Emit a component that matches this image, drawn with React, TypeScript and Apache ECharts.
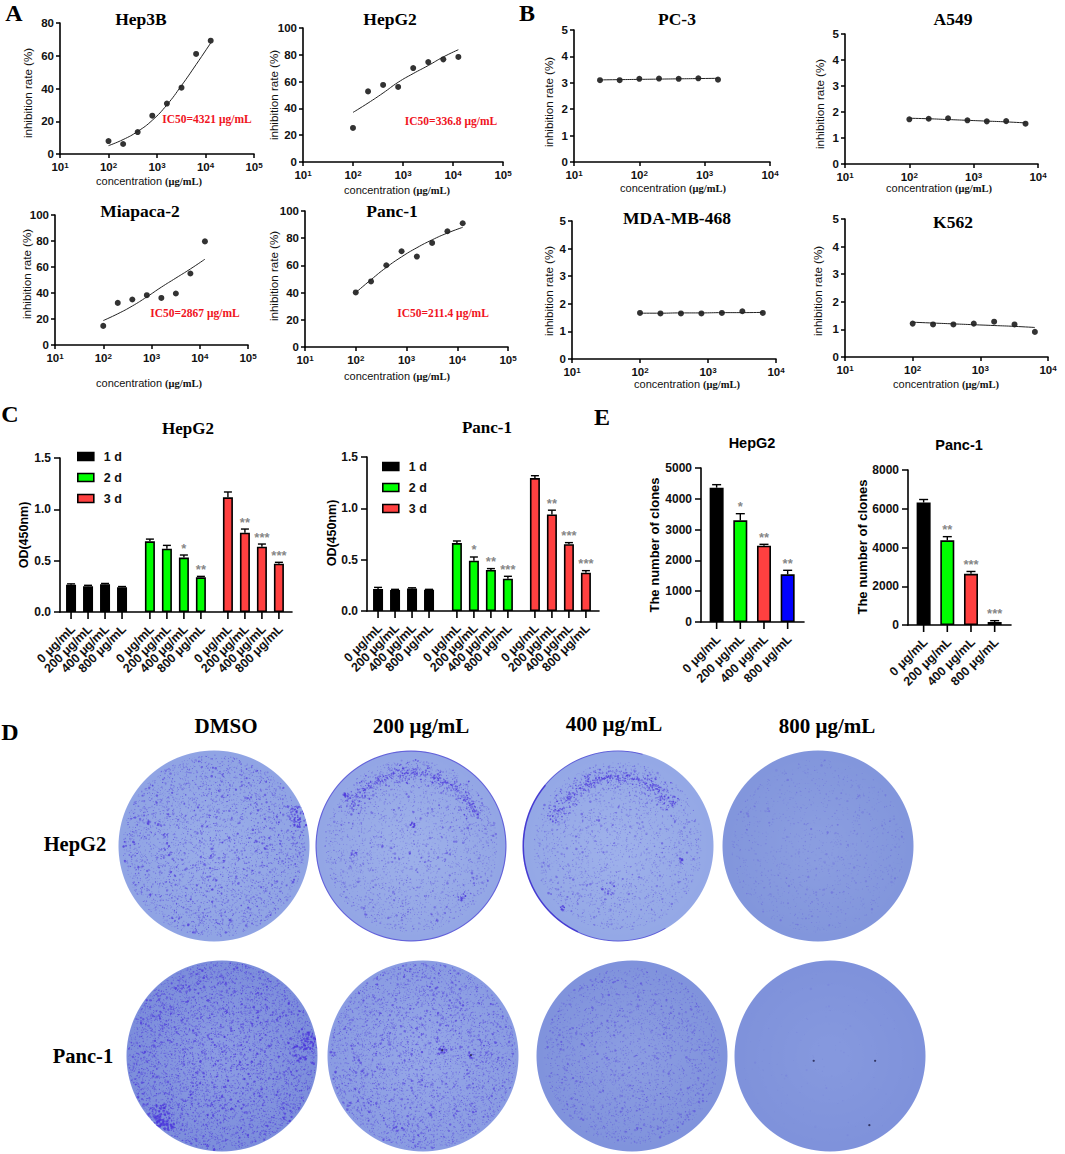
import { useEffect, useRef } from 'react'
import * as echarts from 'echarts'

const SANS = '"Liberation Sans", Arial, sans-serif'
const SERIF = '"Liberation Serif", "Times New Roman", serif'

// --- data ---
const concWide = [100, 200, 400, 800, 1600, 3200, 6400, 12800]
const concPc3 = [25, 50, 100, 200, 400, 800, 1600]
const concNarrow = [100, 200, 400, 800, 1600, 3200, 6400]

const hep3bDots = [7.9, 6.1, 13.4, 23.4, 30.8, 40.5, 61.1, 69.2]
const hep3bFit = [5.1, 8.8, 13.8, 20.6, 30, 41.8, 54.6, 67.8]
const hepg2Dots = [25.4, 52.7, 57.5, 56, 70.1, 74.6, 76.6, 78.4]
const hepg2Fit = [37, 44, 51.5, 59.5, 66, 72, 78.4, 83.8]
const miapacaDots = [14.7, 32.4, 35, 38.3, 36.2, 39.6, 55, 79.7]
const miapacaFit = [18.8, 24, 30, 37, 44.5, 51.5, 58.5, 66]
const panc1Dots = [40.1, 48.2, 60.1, 70.4, 66.5, 76.5, 85.1, 91]
const panc1Fit = [40, 49.5, 58.5, 66.3, 73, 78.8, 83.8, 88]

const pc3Dots = [3.1, 3.1, 3.15, 3.16, 3.15, 3.17, 3.12]
const pc3Fit = [3.11, 3.12, 3.13, 3.14, 3.15, 3.16, 3.17]
const a549Dots = [1.72, 1.74, 1.76, 1.68, 1.64, 1.65, 1.55]
const a549Fit = [1.76, 1.74, 1.71, 1.68, 1.65, 1.62, 1.58]
const mdaDots = [1.67, 1.65, 1.65, 1.65, 1.67, 1.73, 1.67]
const mdaFit = [1.66, 1.66, 1.67, 1.67, 1.68, 1.68, 1.69]
const k562Dots = [1.21, 1.18, 1.18, 1.21, 1.28, 1.18, 0.91]
const k562Fit = [1.26, 1.23, 1.2, 1.17, 1.14, 1.11, 1.07]

const doseLabels = ['0 μg/mL', '200 μg/mL', '400 μg/mL', '800 μg/mL']
const dayNames = ['1 d', '2 d', '3 d']

const cckHepg2 = [0.266, 0.25, 0.27, 0.24, 0.688, 0.617, 0.53, 0.338, 1.117, 0.773, 0.636, 0.471]
const cckHepg2Err = [0.008, 0.01, 0.008, 0.008, 0.022, 0.032, 0.025, 0.009, 0.052, 0.035, 0.026, 0.013]
const cckHepg2Stars = ['', '', '', '', '', '', '*', '**', '', '**', '***', '***']
const cckPanc1 = [0.214, 0.205, 0.22, 0.208, 0.662, 0.49, 0.4, 0.315, 1.295, 0.94, 0.65, 0.373]
const cckPanc1Err = [0.016, 0.006, 0.006, 0.003, 0.02, 0.036, 0.013, 0.023, 0.023, 0.042, 0.016, 0.02]
const cckPanc1Stars = ['', '', '', '', '', '*', '**', '***', '', '**', '***', '***']

const cloneHepg2 = [4361, 3300, 2478, 1548]
const cloneHepg2Err = [98, 217, 44, 130]
const cloneHepg2Stars = ['', '*', '**', '**']
const clonePanc1 = [6321, 4370, 2642, 155]
const clonePanc1Err = [156, 190, 121, 69]
const clonePanc1Stars = ['', '**', '***', '***']

// slots along the bar axes, in bar spacings (the groups are not a whole slot apart)
const cckSlots = [0.65, 1.65, 2.65, 3.65, 5.29, 6.29, 7.29, 8.29, 9.88, 10.88, 11.88, 12.88]
const cloneSlots = [0.66, 1.66, 2.66, 3.66]

const BLACK = '#000000'
const GREEN = '#00ff00'
const RED = '#ff4040'
const BLUE = '#0000ff'

// --- the crystal violet plates are photographs: a speckle texture stands in for them, it is no data ---
interface Plate {
  cx: number
  cy: number
  base: string
  rim: string
  dots: number
  ink: number
  reach: number
  edge?: number
  band?: [number, number, number, number]
  crescent?: boolean
  blobs?: Array<[number, number, number, number]>
  marks?: Array<[number, number]>
}

const plates: Plate[] = [
  { cx: 214, cy: 846, base: '#98ace8', rim: '#90a4e4', dots: 4800, ink: 0.72, reach: 0.95, blobs: [[0.9, -0.31, 0.1, 70], [-0.68, -0.25, 0.02, 4], [-0.45, 0.08, 0.02, 4], [0.0, 0.4, 0.05, 8]] },
  { cx: 411, cy: 846, base: '#9cafe9', rim: '#93a6e5', dots: 3200, ink: 0.55, reach: 0.9, edge: 0.55, band: [0.76, -150, -25, 700], blobs: [[0.02, -0.22, 0.025, 12], [-0.68, -0.53, 0.025, 10], [-0.6, 0.08, 0.03, 10], [0.52, 0.52, 0.04, 10]] },
  { cx: 618, cy: 846, base: '#9db0ea', rim: '#94a8e6', dots: 2700, ink: 0.52, reach: 0.88, crescent: true, band: [0.72, -160, -35, 700], blobs: [[-0.58, 0.65, 0.02, 8], [-0.1, 0.45, 0.06, 14], [0.65, 0.15, 0.02, 8]] },
  { cx: 818, cy: 846, base: '#8a9de0', rim: '#8296dc', dots: 1500, ink: 0.3, reach: 0.9 },
  { cx: 222, cy: 1056, base: '#8a9be2', rim: '#7c8edb', dots: 7500, ink: 0.8, reach: 0.98, blobs: [[0.92, -0.15, 0.09, 90], [0.8, -0.02, 0.08, 30], [-0.66, 0.62, 0.1, 120], [-0.56, 0.72, 0.05, 30]] },
  { cx: 423, cy: 1056, base: '#94a6e7', rim: '#8a9ce2', dots: 6000, ink: 0.68, reach: 0.97, blobs: [[0.2, -0.06, 0.04, 16], [0.5, -0.01, 0.03, 7]], marks: [[0.2, -0.06], [0.5, -0.01]] },
  { cx: 632, cy: 1056, base: '#8a9ce1', rim: '#8093dc', dots: 3500, ink: 0.52, reach: 0.92 },
  { cx: 830, cy: 1056, base: '#8598de', rim: '#7f92db', dots: 160, ink: 0.12, reach: 0.95, marks: [[-0.17, 0.05], [0.47, 0.05], [0.41, 0.72]] }
]

function seeded(seed: number) {
  let s = seed >>> 0
  return () => {
    s = (s + 0x6d2b79f5) >>> 0
    let t = s
    t = Math.imul(t ^ (t >>> 15), t | 1)
    t ^= t + Math.imul(t ^ (t >>> 7), t | 61)
    return ((t ^ (t >>> 14)) >>> 0) / 4294967296
  }
}

function drawPlate(plate: Plate, seed: number): string {
  const R = 96
  const scale = 2
  const canvas = document.createElement('canvas')
  canvas.width = canvas.height = R * 2 * scale
  const ctx = canvas.getContext('2d') as CanvasRenderingContext2D
  const rnd = seeded(seed)
  ctx.scale(scale, scale)
  ctx.translate(R, R)

  ctx.save()
  ctx.beginPath()
  ctx.arc(0, 0, R - 0.5, 0, Math.PI * 2)
  ctx.clip()
  const bg = ctx.createRadialGradient(0, 0, R * 0.2, 0, 0, R)
  bg.addColorStop(0, plate.base)
  bg.addColorStop(1, plate.rim)
  ctx.fillStyle = bg
  ctx.fillRect(-R, -R, R * 2, R * 2)

  const dot = (x: number, y: number, r: number, a: number) => {
    ctx.fillStyle = `rgba(76, 54, 220, ${a})`
    ctx.beginPath()
    ctx.arc(x, y, r, 0, Math.PI * 2)
    ctx.fill()
  }

  ctx.filter = 'blur(0.6px)'
  for (let i = 0; i < plate.dots; i++) {
    const rr = Math.sqrt(rnd()) * R * plate.reach
    const th = rnd() * Math.PI * 2
    const big = rnd() > 0.92
    dot(rr * Math.cos(th), rr * Math.sin(th), big ? 0.7 + rnd() * 0.6 : 0.25 + rnd() * 0.4, plate.ink * (0.35 + rnd() * 0.65))
  }

  if (plate.band) {
    const [bandR, from, to, n] = plate.band
    for (let i = 0; i < n; i++) {
      const th = ((from + rnd() * (to - from)) * Math.PI) / 180
      const spread = (rnd() - 0.5) * (rnd() - 0.5) * 0.6
      const rr = (bandR + spread) * R
      dot(rr * Math.cos(th), rr * Math.sin(th), 0.3 + rnd() * 0.6, 0.3 + rnd() * 0.5)
    }
  }

  for (const [bx, by, br, n] of plate.blobs ?? []) {
    for (let i = 0; i < n; i++) {
      const rr = Math.sqrt(rnd()) * br * R * 1.2
      const th = rnd() * Math.PI * 2
      dot(bx * R + rr * Math.cos(th), by * R + rr * Math.sin(th), 0.5 + rnd() * 0.8, 0.4 + rnd() * 0.5)
    }
  }

  ctx.filter = 'blur(0.5px)'
  if (plate.edge) {
    ctx.strokeStyle = `rgba(60, 40, 210, ${plate.edge})`
    ctx.lineWidth = 1.2
    ctx.beginPath()
    ctx.arc(0, 0, R - 1, 0, Math.PI * 2)
    ctx.stroke()
  }
  if (plate.crescent) {
    ctx.strokeStyle = 'rgba(50, 30, 205, 0.8)'
    ctx.lineWidth = 2
    ctx.beginPath()
    ctx.arc(0, 0, R - 1, (115 * Math.PI) / 180, (220 * Math.PI) / 180)
    ctx.stroke()
    ctx.strokeStyle = 'rgba(50, 30, 205, 0.55)'
    ctx.lineWidth = 1
    ctx.beginPath()
    ctx.arc(0, 0, R - 1, (220 * Math.PI) / 180, (285 * Math.PI) / 180)
    ctx.stroke()
    ctx.beginPath()
    ctx.arc(0, 0, R - 1, (60 * Math.PI) / 180, (115 * Math.PI) / 180)
    ctx.stroke()
  }
  for (const [mx, my] of plate.marks ?? []) {
    ctx.fillStyle = 'rgba(30, 30, 70, 0.8)'
    ctx.beginPath()
    ctx.arc(mx * R, my * R, 1.1, 0, Math.PI * 2)
    ctx.fill()
  }
  ctx.restore()
  return canvas.toDataURL('image/png')
}

// --- builders ---
function plainText(text: string, x: number, y: number, family: string, size: number, bold = true, fill = '#000', rotation = 0) {
  return {
    type: 'text',
    x,
    y,
    rotation,
    silent: true,
    style: { text, fill, fontFamily: family, fontSize: size, fontWeight: bold ? 'bold' : 'normal', align: 'center', verticalAlign: 'middle' }
  }
}

function concentrationName(x: number, y: number) {
  return {
    type: 'text',
    x,
    y,
    silent: true,
    style: {
      text: '{a|concentration }{b|(μg/mL)}',
      align: 'center',
      verticalAlign: 'middle',
      rich: {
        a: { fontFamily: SANS, fontSize: 11, fill: '#111' },
        b: { fontFamily: SERIF, fontSize: 10.5, fontWeight: 'bold', fill: '#111' }
      }
    }
  }
}

interface DosePanel {
  title: string
  titleX: number
  titleY: number
  box: [number, number, number, number]
  yMax: number
  yStep: number
  xMax: number
  conc: number[]
  dots: number[]
  fit: number[]
  nameX: number
  nameY: number
  yNameX: number
  yNameY: number
  ic50?: [string, number, number]
}

const dosePanels: DosePanel[] = [
  { title: 'Hep3B', titleX: 141, titleY: 19, box: [60, 23, 194, 131], yMax: 80, yStep: 20, xMax: 100000, conc: concWide, dots: hep3bDots, fit: hep3bFit, nameX: 149, nameY: 181, yNameX: 27, yNameY: 93, ic50: ['IC50=4321 μg/mL', 207, 119] },
  { title: 'HepG2', titleX: 390, titleY: 19, box: [303, 28, 200, 134], yMax: 100, yStep: 20, xMax: 100000, conc: concWide, dots: hepg2Dots, fit: hepg2Fit, nameX: 397, nameY: 190, yNameX: 273, yNameY: 95, ic50: ['IC50=336.8 μg/mL', 451, 121] },
  { title: 'Miapaca-2', titleX: 140, titleY: 211, box: [55, 215, 193, 130], yMax: 100, yStep: 20, xMax: 100000, conc: concWide, dots: miapacaDots, fit: miapacaFit, nameX: 149, nameY: 383, yNameX: 26, yNameY: 274, ic50: ['IC50=2867 μg/mL', 195, 313] },
  { title: 'Panc-1', titleX: 392, titleY: 211, box: [305, 211, 203, 136], yMax: 100, yStep: 20, xMax: 100000, conc: concWide, dots: panc1Dots, fit: panc1Fit, nameX: 397, nameY: 376, yNameX: 273, yNameY: 276, ic50: ['IC50=211.4 μg/mL', 443, 313] },
  { title: 'PC-3', titleX: 677, titleY: 19, box: [574, 30, 196, 132], yMax: 5, yStep: 1, xMax: 10000, conc: concPc3, dots: pc3Dots, fit: pc3Fit, nameX: 673, nameY: 188, yNameX: 548, yNameY: 102 },
  { title: 'A549', titleX: 953, titleY: 19, box: [845, 34, 193, 130], yMax: 5, yStep: 1, xMax: 10000, conc: concNarrow, dots: a549Dots, fit: a549Fit, nameX: 939, nameY: 188, yNameX: 819, yNameY: 104 },
  { title: 'MDA-MB-468', titleX: 677, titleY: 218, box: [572, 221, 204, 138], yMax: 5, yStep: 1, xMax: 10000, conc: concNarrow, dots: mdaDots, fit: mdaFit, nameX: 687, nameY: 384, yNameX: 548, yNameY: 291 },
  { title: 'K562', titleX: 953, titleY: 222, box: [845, 219, 203, 138], yMax: 5, yStep: 1, xMax: 10000, conc: concNarrow, dots: k562Dots, fit: k562Fit, nameX: 946, nameY: 384, yNameX: 817, yNameY: 291 }
]

interface BarPanel {
  box: [number, number, number, number]
  slots: number[]
  xMax: number
  labels: string[]
  yMax: number
  yStep: number
  values: number[]
  errs: number[]
  stars: string[]
  barWidth: number
  capWidth: number
  decimals: number
  groups: Array<{ name: string; color: string; from: number; to: number }>
}

const cckGroups = [
  { name: dayNames[0], color: BLACK, from: 0, to: 4 },
  { name: dayNames[1], color: GREEN, from: 4, to: 8 },
  { name: dayNames[2], color: RED, from: 8, to: 12 }
]
const cloneGroups = [
  { name: 'clones 0', color: BLACK, from: 0, to: 1 },
  { name: 'clones 200', color: GREEN, from: 1, to: 2 },
  { name: 'clones 400', color: RED, from: 2, to: 3 },
  { name: 'clones 800', color: BLUE, from: 3, to: 4 }
]
const cckLabels = [...doseLabels, ...doseLabels, ...doseLabels]

const barPanels: BarPanel[] = [
  { box: [60, 458, 232, 154], slots: cckSlots, xMax: 13.65, labels: cckLabels, yMax: 1.5, yStep: 0.5, values: cckHepg2, errs: cckHepg2Err, stars: cckHepg2Stars, barWidth: 10, capWidth: 8, decimals: 1, groups: cckGroups },
  { box: [367, 457, 232, 154], slots: cckSlots, xMax: 13.65, labels: cckLabels, yMax: 1.5, yStep: 0.5, values: cckPanc1, errs: cckPanc1Err, stars: cckPanc1Stars, barWidth: 10, capWidth: 8, decimals: 1, groups: cckGroups },
  { box: [701, 468, 103, 154], slots: cloneSlots, xMax: 4.35, labels: doseLabels, yMax: 5000, yStep: 1000, values: cloneHepg2, errs: cloneHepg2Err, stars: cloneHepg2Stars, barWidth: 14, capWidth: 9, decimals: 0, groups: cloneGroups },
  { box: [908, 470, 103, 155], slots: cloneSlots, xMax: 4.35, labels: doseLabels, yMax: 8000, yStep: 2000, values: clonePanc1, errs: clonePanc1Err, stars: clonePanc1Stars, barWidth: 14, capWidth: 9, decimals: 0, groups: cloneGroups }
]

const blackLine = { show: true, onZero: false, lineStyle: { color: '#000', width: 1.6 } }
const blackTick = (length: number) => ({ show: true, length, lineStyle: { color: '#000', width: 1.5 } })

function buildOption(plateImages: string[]) {
  const grid: any[] = []
  const xAxis: any[] = []
  const yAxis: any[] = []
  const series: any[] = []
  const graphic: any[] = []

  dosePanels.forEach((p) => {
    const i = grid.length
    grid.push({ left: p.box[0], top: p.box[1], width: p.box[2], height: p.box[3], containLabel: false })
    xAxis.push({
      type: 'log',
      gridIndex: i,
      logBase: 10,
      min: 10,
      max: p.xMax,
      axisLine: blackLine,
      axisTick: blackTick(4),
      minorTick: { show: false },
      splitLine: { show: false },
      axisLabel: {
        margin: 7,
        formatter: (v: number) => `{a|10}{s|${Math.round(Math.log10(v))}}`,
        rich: {
          a: { fontFamily: SANS, fontSize: 11.5, fontWeight: 'bold', color: '#111' },
          s: { fontFamily: SANS, fontSize: 8, fontWeight: 'bold', color: '#111', verticalAlign: 'top' }
        }
      }
    })
    yAxis.push({
      type: 'value',
      gridIndex: i,
      min: 0,
      max: p.yMax,
      interval: p.yStep,
      axisLine: blackLine,
      axisTick: blackTick(4),
      splitLine: { show: false },
      axisLabel: { margin: 6, fontFamily: SANS, fontSize: 11.5, fontWeight: 'bold', color: '#111' }
    })
    series.push({
      type: 'line',
      name: `${p.title} fit`,
      xAxisIndex: i,
      yAxisIndex: i,
      data: p.conc.map((c, k) => [c, p.fit[k]]),
      smooth: true,
      showSymbol: false,
      lineStyle: { color: '#222', width: 1 },
      silent: true
    })
    series.push({
      type: 'scatter',
      name: p.title,
      xAxisIndex: i,
      yAxisIndex: i,
      data: p.conc.map((c, k) => [c, p.dots[k]]),
      symbolSize: 6,
      itemStyle: { color: '#000' },
      silent: true
    })
    graphic.push(plainText(p.title, p.titleX, p.titleY, SERIF, 17.5))
    graphic.push(concentrationName(p.nameX, p.nameY))
    graphic.push(plainText('inhibition rate (%)', p.yNameX, p.yNameY, SANS, 11.6, false, '#111', Math.PI / 2))
    if (p.ic50) graphic.push(plainText(p.ic50[0], p.ic50[1], p.ic50[2], SERIF, 11.5, true, '#f0141e'))
  })

  barPanels.forEach((p) => {
    const i = grid.length
    grid.push({ left: p.box[0], top: p.box[1], width: p.box[2], height: p.box[3], containLabel: false })
    xAxis.push({
      type: 'value',
      gridIndex: i,
      min: 0,
      max: p.xMax,
      axisLine: blackLine,
      axisTick: { show: false },
      axisLabel: { show: false },
      splitLine: { show: false }
    })
    yAxis.push({
      type: 'value',
      gridIndex: i,
      min: 0,
      max: p.yMax,
      interval: p.yStep,
      axisLine: blackLine,
      axisTick: blackTick(6),
      splitLine: { show: false },
      axisLabel: {
        margin: 9,
        fontFamily: SANS,
        fontSize: 12,
        fontWeight: 'bold',
        color: '#111',
        formatter: (v: number) => v.toFixed(p.decimals)
      }
    })
    p.groups.forEach((g) => {
      series.push({
        type: 'bar',
        name: g.name,
        xAxisIndex: i,
        yAxisIndex: i,
        barWidth: p.barWidth,
        barGap: '-100%',
        itemStyle: { color: g.color, borderColor: '#000', borderWidth: 1.6 },
        silent: true,
        data: p.slots.slice(g.from, g.to).map((s, k) => [s, p.values[g.from + k]])
      })
    })
    // whiskers, and the x ticks and slanted labels: the uneven slots defeat the axis's own label thinning
    series.push({
      type: 'custom',
      name: 'error bars',
      xAxisIndex: i,
      yAxisIndex: i,
      silent: true,
      clip: false,
      data: p.slots.map((s, k) => [s, p.values[k], p.values[k] + p.errs[k]]),
      encode: { x: 0, y: [1, 2] },
      renderItem: (params: any, api: any) => {
        const x = api.value(0)
        const base = api.coord([x, api.value(1)])
        const top = api.coord([x, api.value(2)])
        const zero = api.coord([x, 0])
        const style = { stroke: '#000', lineWidth: 1.4 }
        return {
          type: 'group',
          children: [
            { type: 'line', shape: { x1: base[0], y1: base[1], x2: top[0], y2: top[1] }, style },
            { type: 'line', shape: { x1: top[0] - p.capWidth / 2, y1: top[1], x2: top[0] + p.capWidth / 2, y2: top[1] }, style },
            { type: 'line', shape: { x1: zero[0], y1: zero[1], x2: zero[0], y2: zero[1] + 7 }, style: { stroke: '#000', lineWidth: 1.6 } },
            {
              type: 'text',
              x: zero[0] + 2,
              y: zero[1] + 15,
              rotation: Math.PI / 4,
              style: {
                text: p.labels[params.dataIndex],
                align: 'right',
                verticalAlign: 'middle',
                fontFamily: SANS,
                fontSize: 12.5,
                fontWeight: 'bold',
                fill: '#111'
              }
            }
          ]
        }
      }
    })
    series.push({
      type: 'scatter',
      name: 'significance',
      xAxisIndex: i,
      yAxisIndex: i,
      silent: true,
      symbolSize: 1,
      itemStyle: { color: 'transparent' },
      data: p.slots.map((s, k) => [s, p.values[k] + p.errs[k]]),
      label: {
        show: true,
        position: 'top',
        distance: 0,
        fontFamily: SANS,
        fontSize: 13,
        fontWeight: 'bold',
        color: '#666',
        formatter: (q: any) => p.stars[q.dataIndex]
      }
    })
  })

  graphic.push(plainText('A', 14, 13, SERIF, 24))
  graphic.push(plainText('B', 527, 13, SERIF, 24))
  graphic.push(plainText('C', 10, 414, SERIF, 24))
  graphic.push(plainText('D', 10, 732, SERIF, 24))
  graphic.push(plainText('E', 602, 417, SERIF, 24))

  graphic.push(plainText('HepG2', 188, 428, SERIF, 17))
  graphic.push(plainText('Panc-1', 487, 427, SERIF, 17))
  graphic.push(plainText('OD(450nm)', 24, 535, SANS, 12.5, true, '#000', Math.PI / 2))
  graphic.push(plainText('OD(450nm)', 332, 533, SANS, 12.5, true, '#000', Math.PI / 2))

  graphic.push(plainText('HepG2', 752, 443, SANS, 14.5))
  graphic.push(plainText('Panc-1', 959, 445, SANS, 14.5))
  graphic.push(plainText('The number of clones', 654, 545, SANS, 13, true, '#000', Math.PI / 2))
  graphic.push(plainText('The number of clones', 862, 547, SANS, 13, true, '#000', Math.PI / 2))

  graphic.push(plainText('DMSO', 226, 726, SERIF, 21))
  graphic.push(plainText('200 μg/mL', 421, 726, SERIF, 21))
  graphic.push(plainText('400 μg/mL', 614, 724, SERIF, 21))
  graphic.push(plainText('800 μg/mL', 827, 726, SERIF, 21))
  graphic.push(plainText('HepG2', 75, 844, SERIF, 20.5))
  graphic.push(plainText('Panc-1', 83, 1056, SERIF, 20.5))

  plates.forEach((plate, k) => {
    graphic.push({
      type: 'image',
      silent: true,
      style: { image: plateImages[k], x: plate.cx - 96, y: plate.cy - 96, width: 192, height: 192 }
    })
  })

  const legendBase = {
    orient: 'vertical',
    icon: 'rect',
    itemWidth: 16,
    itemHeight: 8,
    itemGap: 8,
    data: dayNames,
    selectedMode: false,
    itemStyle: { borderColor: '#000', borderWidth: 1.6 },
    textStyle: { fontFamily: SANS, fontSize: 12.5, fontWeight: 'bold', color: '#111', padding: [0, 0, 0, 5] }
  }

  return {
    animation: false,
    backgroundColor: '#fff',
    grid,
    xAxis,
    yAxis,
    series,
    graphic,
    legend: [
      { ...legendBase, left: 72, top: 445 },
      { ...legendBase, left: 377, top: 455 }
    ]
  }
}

export default function App() {
  const chartRef = useRef<HTMLDivElement>(null)

  useEffect(() => {
    const host = chartRef.current
    if (!host) return
    const chart = echarts.init(host, null, { renderer: 'svg' })
    chart.setOption(buildOption(plates.map((plate, k) => drawPlate(plate, 17 + k * 101))) as any)
    return () => {
      chart.dispose()
    }
  }, [])

  return <div ref={chartRef} style={{ position: 'absolute', left: 0, top: 0, width: 1065, height: 1154 }} />
}
